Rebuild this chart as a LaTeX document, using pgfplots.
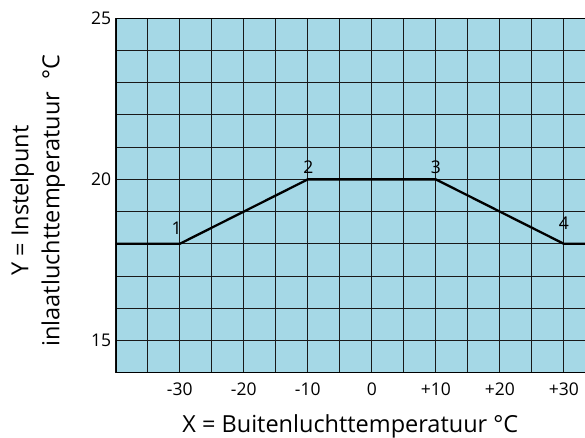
\documentclass[border=0pt]{standalone}
\usepackage{pgfplots}
\pgfplotsset{compat=1.18}
\usepackage{fontspec}
\setmainfont{Open Sans}
\definecolor{skyc}{RGB}{165,216,230}
\begin{document}
\begin{tikzpicture}
\begin{axis}[name=ax, scale only axis, width=469.3pt, height=354.4pt,
  xmin=-40, xmax=33.3, ymin=14, ymax=25,
  axis background/.style={fill=skyc},
  axis line style={draw=none},
  xtick={-30,-20,-10,0,10,20,30},
  xticklabels={-30,-20,-10,0,+10,+20,+30},
  minor xtick={-40,-35,-25,-15,-5,5,15,25},
  ytick={15,20,25},
  minor ytick={14,16,17,18,19,21,22,23,24},
  grid=both,
  major grid style={black!90, line width=0.9pt},
  minor grid style={black!90, line width=0.9pt},
  major tick length=0pt, minor tick length=0pt,
  /pgf/number format/assume math mode=true,
  tick label style={font=\fontsize{17.5}{19}\selectfont},
  x tick label style={yshift=-7pt},
  y tick label style={xshift=-1pt},
  clip=true,
]
\addplot[black, line width=2.3pt] coordinates {(-40,18) (-30,18) (-10,20) (10,20) (30,18) (33.3,18)};
\addplot[draw=none, nodes near coords, point meta=explicit symbolic,
  visualization depends on={\thisrow{dy} \as \dy},
  visualization depends on={\thisrow{dx} \as \dx},
  nodes near coords style={anchor=south, inner sep=0pt, yshift=\dy pt, xshift=\dx pt, font=\fontsize{17.5}{19}\selectfont, text=black}]
  table[meta=lab] {
x y lab dy dx
-30 18 1 9 -3
-10 20 2 6 0.5
10 20 3 6 0
30 18 4 14 0
};
\draw[black, line width=2pt] (rel axis cs:1,1) -- (rel axis cs:0,1) -- (rel axis cs:0,0) -- (rel axis cs:1,0);
\end{axis}
\node[anchor=base, inner sep=0pt, font=\fontsize{23.5}{28}\selectfont] at ([yshift=-60.3pt]ax.south) {X = Buitenluchttemperatuur °C};
\node[rotate=90, anchor=south, align=center, inner sep=0pt, font=\fontsize{23.5}{31}\selectfont] at ([xshift=-50.5pt, yshift=-5pt]ax.west) {Y = Instelpunt\\inlaatluchttemperatuur~~°C};
\pgfresetboundingbox
\path ([xshift=-115.7pt, yshift=-65.3pt]ax.south west) rectangle ([yshift=18.3pt]ax.north east);
\end{tikzpicture}
\end{document}
